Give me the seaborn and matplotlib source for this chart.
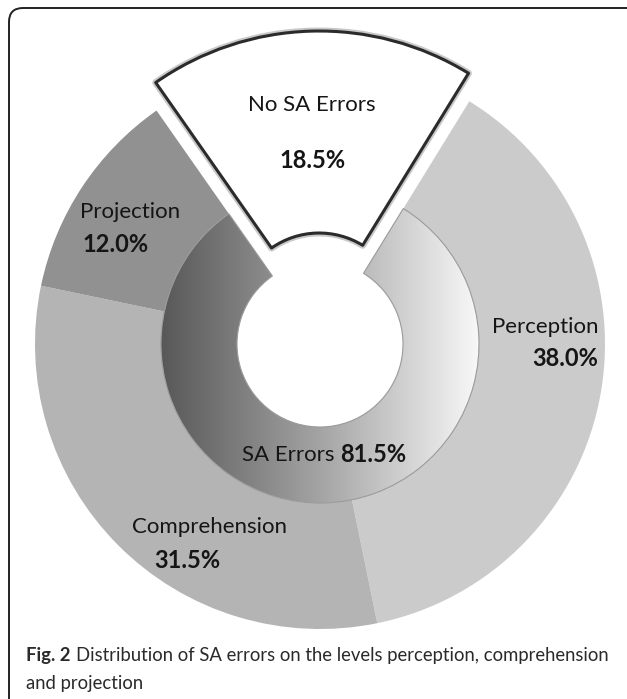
import matplotlib
matplotlib.use("Agg")
import matplotlib.pyplot as plt
import matplotlib.patheffects as pe
from matplotlib.colors import LinearSegmentedColormap
from matplotlib.patches import FancyBboxPatch
import seaborn as sns
import numpy as np

sns.set_theme(style="white")
plt.rcParams['font.family'] = ['Lato', 'DejaVu Sans']

# Données
levels = ["Perception", "Comprehension", "Projection"]
level_share = [38.0, 31.5, 12.0]
no_error_label = "No SA Errors"
no_error_share = 18.5
error_label = "SA Errors"
error_share = 81.5
caption_bold = "Fig. 2"
caption_line1 = "Distribution of SA errors on the levels perception, comprehension"
caption_line2 = "and projection"

# Mise en page (pixels, y vers le haut)
W, H = 627, 699
cx, cy = 320, H - 344
r_out, r_mid, r_hole = 285, 159, 83
start = 125
explode_px = 28

fig = plt.figure(figsize=(W / 100, H / 100), dpi=100)
ax = fig.add_axes([0, 0, 1, 1])

# anneau extérieur : niveaux d'erreurs
outer_colors = ['white'] + ['#cbcbcb', '#b4b4b4', '#919191']
outer, _ = ax.pie([no_error_share] + level_share, radius=r_out, center=(cx, cy),
                  startangle=start, counterclock=False, colors=outer_colors,
                  wedgeprops=dict(width=r_out - r_mid, linewidth=0))
outer[0].set_visible(False)

# anneau intérieur : SA errors avec dégradé
inner, _ = ax.pie([no_error_share, error_share], radius=r_mid, center=(cx, cy),
                  startangle=start, counterclock=False, colors=['white', 'none'],
                  wedgeprops=dict(width=r_mid - r_hole, linewidth=0.8, edgecolor='#9a9a9a'))
inner[0].set_visible(False)
grad = np.linspace(0, 1, 256).reshape(1, -1)
cmap = LinearSegmentedColormap.from_list('sa', ['#585858', '#a4a4a4', '#f8f8f8'])
im = ax.imshow(grad, cmap=cmap, aspect='auto', zorder=0.5,
               extent=[cx - r_mid, cx + r_mid, cy - r_mid, cy + r_mid])
im.set_clip_path(inner[1])

# part "No SA Errors" détachée (explode en unités de données = pixels)
big, _ = ax.pie([no_error_share, error_share], radius=r_out, center=(cx, cy),
                startangle=start, counterclock=False, colors=['white', 'none'],
                explode=[explode_px, 0],
                wedgeprops=dict(width=r_out - r_hole, linewidth=2.2, edgecolor='#2b2b2b',
                                joinstyle='round'))
big[1].set_visible(False)
big[0].set_zorder(3)
big[0].set_path_effects([pe.Stroke(linewidth=5, foreground='#c8c8c8'), pe.Normal()])

ax.set_xlim(0, W)
ax.set_ylim(0, H)
ax.set_aspect('equal')
ax.axis('off')

# étiquettes
lab = dict(color='#151515', zorder=5)
ax.text(312, H - 105, no_error_label, ha='center', va='center', fontsize=16, **lab)
ax.text(313, H - 160, f"{no_error_share:.1f}%", ha='center', va='center',
        fontweight='bold', fontsize=17, **lab)

label_pos = [(598, 327, 'right'), (132, 527, 'left'), (80, 212, 'left')]
value_pos = [(598, 359, 'right'), (154, 560, 'left'), (82, 245, 'left')]
for name, share, (lx, ly, lha), (vx, vy, vha) in zip(levels, level_share, label_pos, value_pos):
    ax.text(lx, H - ly, name, ha=lha, va='center', fontsize=16, **lab)
    ax.text(vx, H - vy, f"{share:.1f}%", ha=vha, va='center', fontweight='bold',
            fontsize=17, **lab)

ax.text(334, H - 455, error_label, ha='right', va='center', fontsize=16, **lab)
ax.text(340, H - 455, f"{error_share:.1f}%", ha='left', va='center', fontweight='bold',
        fontsize=17, **lab)

# légende de la figure, taille ajustée pour tenir entre x=26 et x=613
cap = dict(color='#2a2a2a', family=['Lato', 'DejaVu Sans'])
fs = 14
t0 = ax.text(26, H - 656, caption_bold, ha='left', va='center', fontweight='bold',
             fontsize=fs, **cap)
t1 = ax.text(0, H - 656, caption_line1, ha='left', va='center', fontsize=fs, **cap)
fig.canvas.draw()
r = fig.canvas.get_renderer()
total = t0.get_window_extent(r).width + 5 + t1.get_window_extent(r).width
fs = fs * (613 - 26) / total
t0.set_fontsize(fs)
t1.set_fontsize(fs)
fig.canvas.draw()
bb = t0.get_window_extent(r).transformed(ax.transData.inverted())
t1.set_x(bb.x1 + 5)
ax.text(26, H - 683, caption_line2, ha='left', va='center', fontsize=fs, **cap)

# cadre arrondi
frame = FancyBboxPatch((9, -30), 650, H - 8 + 30,
                       boxstyle="round,pad=0,rounding_size=14",
                       facecolor='none', edgecolor='#222222', linewidth=1.4, zorder=6)
ax.add_patch(frame)

fig.savefig("out.png", dpi=100)
